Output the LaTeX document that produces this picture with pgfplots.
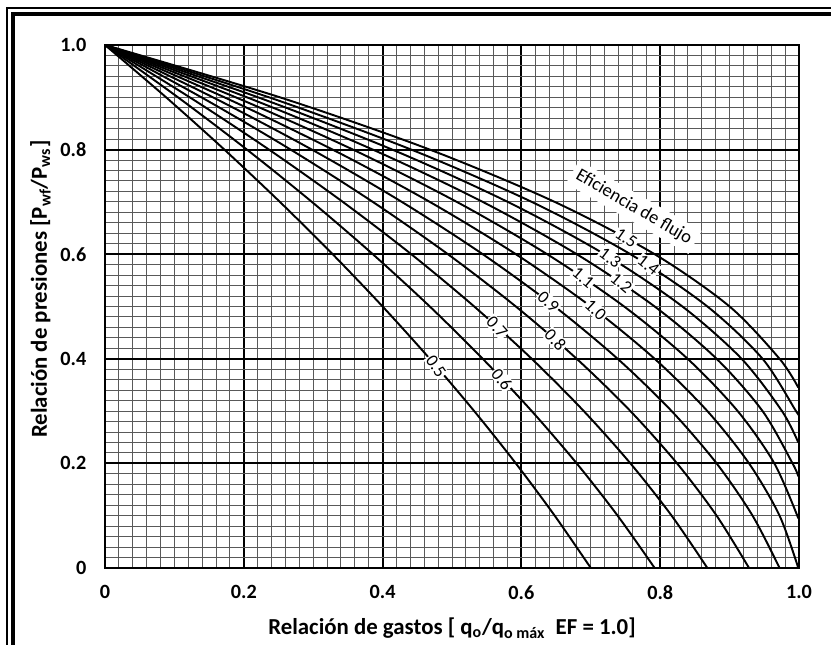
\documentclass[border=0pt]{standalone}
\usepackage{fontspec}
\setmainfont{Carlito}
\usepackage{pgfplots}
\pgfplotsset{compat=1.18}

% Standing curves, q/qmax(EF=1) against Pwf/Pws, one table per efficiency
\pgfplotstableread{
x y
0 1
0.0880 0.9
0.1720 0.8
0.2520 0.7
0.3280 0.6
0.4000 0.5
0.4680 0.4
0.5320 0.3
0.5920 0.2
0.6480 0.1
0.7000 0
}\efA
\pgfplotstableread{
x y
0 1
0.1051 0.9
0.2045 0.8
0.2981 0.7
0.3859 0.6
0.4680 0.5
0.5443 0.4
0.6149 0.3
0.6797 0.2
0.7387 0.1
0.7920 0
}\efB
\pgfplotstableread{
x y
0 1
0.1221 0.9
0.2363 0.8
0.3427 0.7
0.4413 0.6
0.5320 0.5
0.6149 0.4
0.6899 0.3
0.7571 0.2
0.8165 0.1
0.8680 0
}\efC
\pgfplotstableread{
x y
0 1
0.1389 0.9
0.2675 0.8
0.3859 0.7
0.4941 0.6
0.5920 0.5
0.6797 0.4
0.7571 0.3
0.8243 0.2
0.8813 0.1
0.9280 0
}\efD
\pgfplotstableread{
x y
0 1
0.1555 0.9
0.2981 0.8
0.4277 0.7
0.5443 0.6
0.6480 0.5
0.7387 0.4
0.8165 0.3
0.8813 0.2
0.9331 0.1
0.9720 0
}\efE
\pgfplotstableread{
x y
0 1
0.1720 0.9
0.3280 0.8
0.4680 0.7
0.5920 0.6
0.7000 0.5
0.7920 0.4
0.8680 0.3
0.9280 0.2
0.9720 0.1
0.9990 0
}\efF
\pgfplotstableread{
x y
0 1
0.1883 0.9
0.3573 0.8
0.5069 0.7
0.6371 0.6
0.7480 0.5
0.8395 0.4
0.9117 0.3
0.9645 0.2
0.9990 0.095
}\efG
\pgfplotstableread{
x y
0 1
0.2045 0.9
0.3859 0.8
0.5443 0.7
0.6797 0.6
0.7920 0.5
0.8813 0.4
0.9475 0.3
0.9907 0.2
0.9990 0.175
}\efH
\pgfplotstableread{
x y
0 1
0.2205 0.9
0.4139 0.8
0.5803 0.7
0.7197 0.6
0.8320 0.5
0.9173 0.4
0.9755 0.3
0.9990 0.24
}\efI
\pgfplotstableread{
x y
0 1
0.2363 0.9
0.4413 0.8
0.6149 0.7
0.7571 0.6
0.8680 0.5
0.9475 0.4
0.9957 0.3
0.9990 0.295
}\efJ
\pgfplotstableread{
x y
0 1
0.2520 0.9
0.4680 0.8
0.6480 0.7
0.7920 0.6
0.9000 0.5
0.9720 0.4
0.9990 0.345
}\efK

\begin{document}
\begin{tikzpicture}
\useasboundingbox (0,0) rectangle (16.62,12.9);
% double frame of the figure
\draw[line width=0.03cm] (0.14,-0.2) -- (0.14,12.74) -- (16.7,12.74);
\draw[line width=0.08cm] (0.26,-0.2) -- (0.26,12.62) -- (16.7,12.62);
\begin{axis}[
    at={(2.1cm,1.54cm)}, anchor=south west,
    scale only axis,
    width=13.88cm, height=10.46cm,
    xmin=0, xmax=1, ymin=0, ymax=1,
    xtick={0,0.2,0.4,0.6,0.8,1},
    xticklabels={0,0.2,0.4,0.6,0.8,1.0},
    ytick={0,0.2,0.4,0.6,0.8,1},
    yticklabels={0,0.2,0.4,0.6,0.8,1.0},
    minor tick num=9,
    major tick length=0pt, minor tick length=0pt,
    ticklabel style={font=\fontsize{11.5}{13}\selectfont\bfseries},
    xticklabel style={yshift=-0.22cm},
    yticklabel style={xshift=-0.25cm},
    grid=both,
    major grid style={black, line width=1.1pt},
    minor grid style={black!65, line width=0.55pt},
    axis line style={black, line width=1.1pt},
    xlabel={Relación de gastos [ q\textsubscript{o}/q\textsubscript{o máx}\ \ EF = 1.0]},
    ylabel={Relación de presiones [P\textsubscript{wf}/P\textsubscript{ws}]},
    label style={font=\fontsize{13}{15}\selectfont\bfseries},
    xlabel style={at={(axis description cs:0.50,-0.115)}, anchor=center},
    ylabel style={at={(axis description cs:-0.093,0.533)}, anchor=center},
    ef/.style={black, line width=1.1pt, smooth, no markers, solid},
]
\addplot[ef] table {\efA};
\addplot[ef] table {\efB};
\addplot[ef] table {\efC};
\addplot[ef] table {\efD};
\addplot[ef] table {\efE};
\addplot[ef] table {\efF};
\addplot[ef] table {\efG};
\addplot[ef] table {\efH};
\addplot[ef] table {\efI};
\addplot[ef] table {\efJ};
\addplot[ef] table {\efK};

\begin{scope}[every node/.style={fill=white, inner sep=0.6pt,
    font=\fontsize{10}{11}\selectfont}]
\node[rotate=-55] at (axis cs:0.477,0.386) {0.5};
\node[rotate=-52] at (axis cs:0.572,0.361) {0.6};
\node[rotate=-48] at (axis cs:0.565,0.461) {0.7};
\node[rotate=-47] at (axis cs:0.649,0.436) {0.8};
\node[rotate=-43] at (axis cs:0.639,0.509) {0.9};
\node[rotate=-43] at (axis cs:0.707,0.493) {1.0};
\node[rotate=-40] at (axis cs:0.689,0.555) {1.1};
\node[rotate=-40] at (axis cs:0.744,0.545) {1.2};
\node[rotate=-37] at (axis cs:0.728,0.593) {1.3};
\node[rotate=-38] at (axis cs:0.783,0.579) {1.4};
\node[rotate=-35] at (axis cs:0.751,0.631) {1.5};
\node[rotate=-30, inner sep=3pt, font=\fontsize{10.5}{12}\selectfont]
    at (axis cs:0.762,0.690) {Eficiencia de flujo};
\end{scope}
\end{axis}
\end{tikzpicture}
\end{document}
